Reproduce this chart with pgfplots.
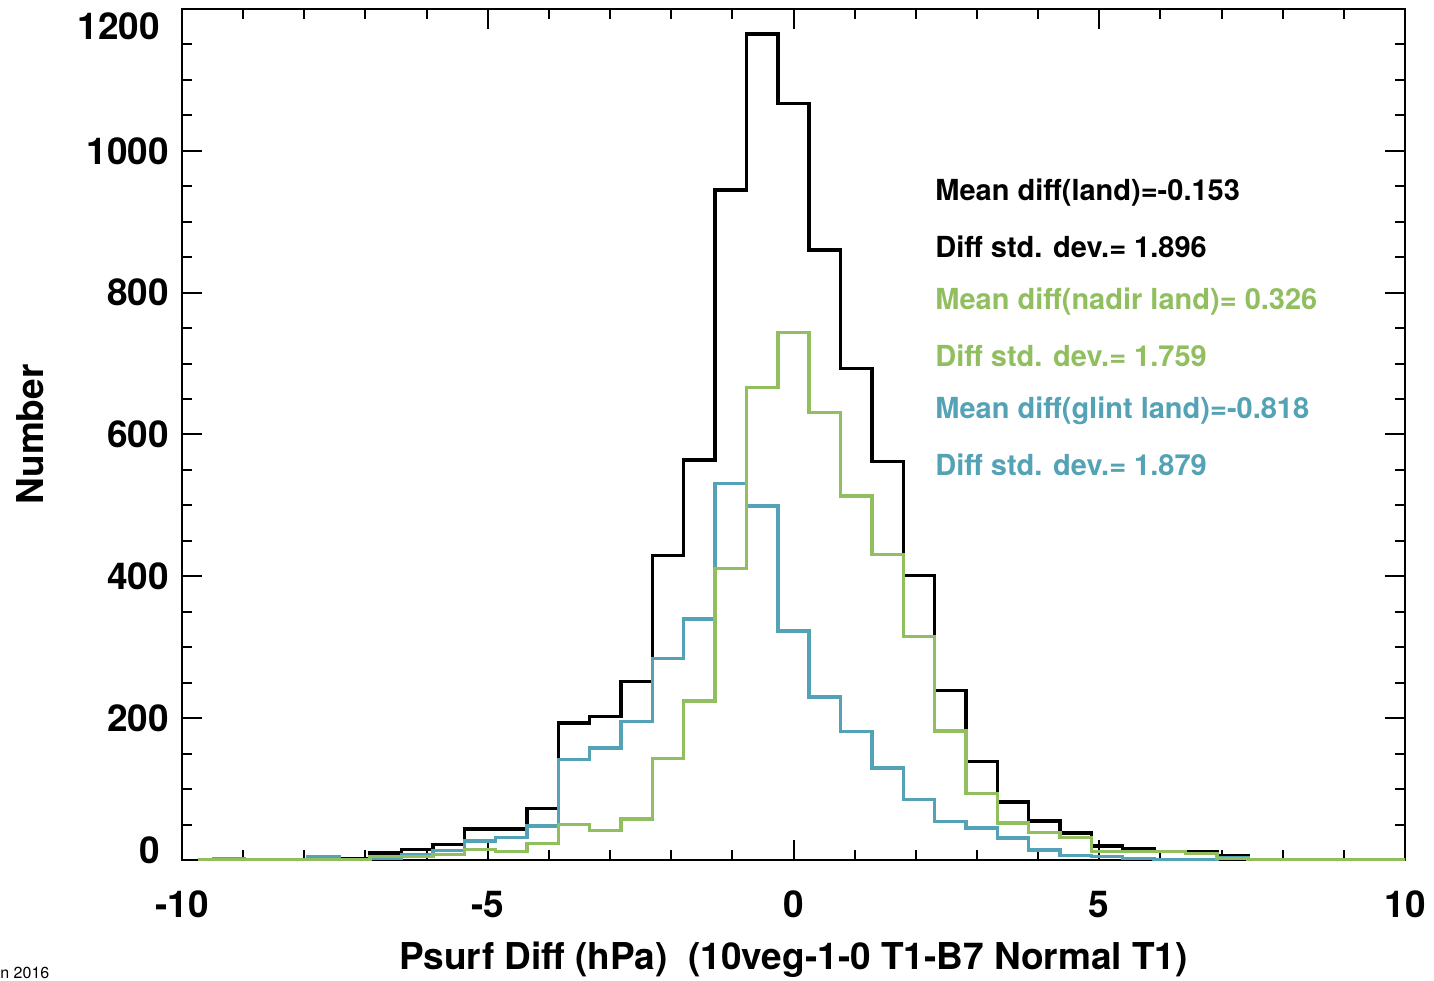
\documentclass[border=0pt]{standalone}
\usepackage{fontspec}
\setmainfont{TeX Gyre Heros}
\usepackage{pgfplots}
\pgfplotsset{compat=1.18}
\usepackage{pgfplotstable}
\definecolor{cgreen}{RGB}{145,191,96}
\definecolor{cblue}{RGB}{84,162,181}
\pgfplotstableread{
x black green blue
-9.744 0 0 0
-9.231 1 0 2
-8.718 0 0 0
-8.205 1 0 0
-7.692 5 1 4
-7.179 2 0 1
-6.667 10 5 2
-6.154 15 5 8
-5.641 22 8 13
-5.128 44 15 27
-4.615 44 12 32
-4.103 73 23 48
-3.590 193 50 142
-3.077 202 42 158
-2.564 252 58 195
-2.051 429 143 284
-1.538 564 224 340
-1.026 945 411 531
-0.513 1165 666 499
0 1067 744 323
0.513 860 631 230
1.026 693 513 181
1.538 562 431 130
2.051 401 315 85
2.564 239 182 54
3.077 139 94 45
3.590 82 52 31
4.103 55 39 14
4.615 38 32 6
5.128 20 12 5
5.641 16 12 2
6.154 12 12 0
6.667 12 9 0
7.179 6 2 3
7.692 1 1 0
8.205 1 1 0
8.718 0 1 0
9.231 0 1 0
9.744 0 0 0
10.256 0 0 0
}\histdata
\begin{document}
\begin{tikzpicture}
\useasboundingbox (-91pt,-60pt) rectangle (626pt,430pt);
\begin{axis}[
  at={(0,0)}, anchor=south west,
  scale only axis,
  width=611.5pt, height=425.5pt,
  xmin=-10, xmax=10, ymin=0, ymax=1200,
  xtick={-10,-5,0,5,10},
  ytick={0,200,400,600,800,1000,1200},
  yticklabels={,200,400,600,800,1000,},
  minor x tick num=4,
  minor y tick num=3,
  tick align=inside,
  xtick pos=both, ytick pos=both,
  major tick length=10pt,
  minor tick length=5pt,
  axis line style={line width=1pt},
  every tick/.style={black, line width=1pt},
  /pgf/number format/assume math mode=true,
  tick label style={font=\fontsize{18.5}{22}\selectfont\bfseries},
  xticklabel style={yshift=-12pt},
  yticklabel style={xshift=-3pt},
  xlabel={Psurf Diff (hPa)\ \ (10veg-1-0 T1-B7 Normal T1)},
  ylabel={Number},
  label style={font=\fontsize{18.5}{22}\selectfont\bfseries},
  xlabel style={at={(axis description cs:0.5,0)}, anchor=center, yshift=-50pt},
  ylabel style={at={(axis description cs:0,0.5)}, anchor=center, yshift=76pt},
  clip=true,
]
\addplot[const plot mark mid, black, line width=1.7pt] table[x=x, y=black] {\histdata};
\addplot[const plot mark mid, cblue, line width=1.7pt] table[x=x, y=blue] {\histdata};
\addplot[const plot mark mid, cgreen, line width=1.7pt] table[x=x, y=green] {\histdata};
\end{axis}
\begin{scope}[every node/.style={font=\fontsize{14.5}{16}\selectfont\bfseries, anchor=west, inner sep=0pt}]
\node[black] at (376.5pt,333.5pt) {Mean diff(land)=-0.153};
\node[black] at (376.5pt,306.5pt) {Diff std. dev.= 1.896};
\node[cgreen] at (376.5pt,279pt) {Mean diff(nadir land)= 0.326};
\node[cgreen] at (376.5pt,252pt) {Diff std. dev.= 1.759};
\node[cblue] at (376.5pt,224.5pt) {Mean diff(glint land)=-0.818};
\node[cblue] at (376.5pt,197.5pt) {Diff std. dev.= 1.879};
\end{scope}
\node[font=\fontsize{18.5}{22}\selectfont\bfseries, anchor=east] at (-7.5pt,5pt) {0};
\node[font=\fontsize{18.5}{22}\selectfont\bfseries, anchor=east] at (-7.5pt,417pt) {1200};
\node[font=\fontsize{8}{9}\selectfont, anchor=south west, inner sep=0pt] at (-91pt,-59.5pt) {n 2016};
\end{tikzpicture}
\end{document}
